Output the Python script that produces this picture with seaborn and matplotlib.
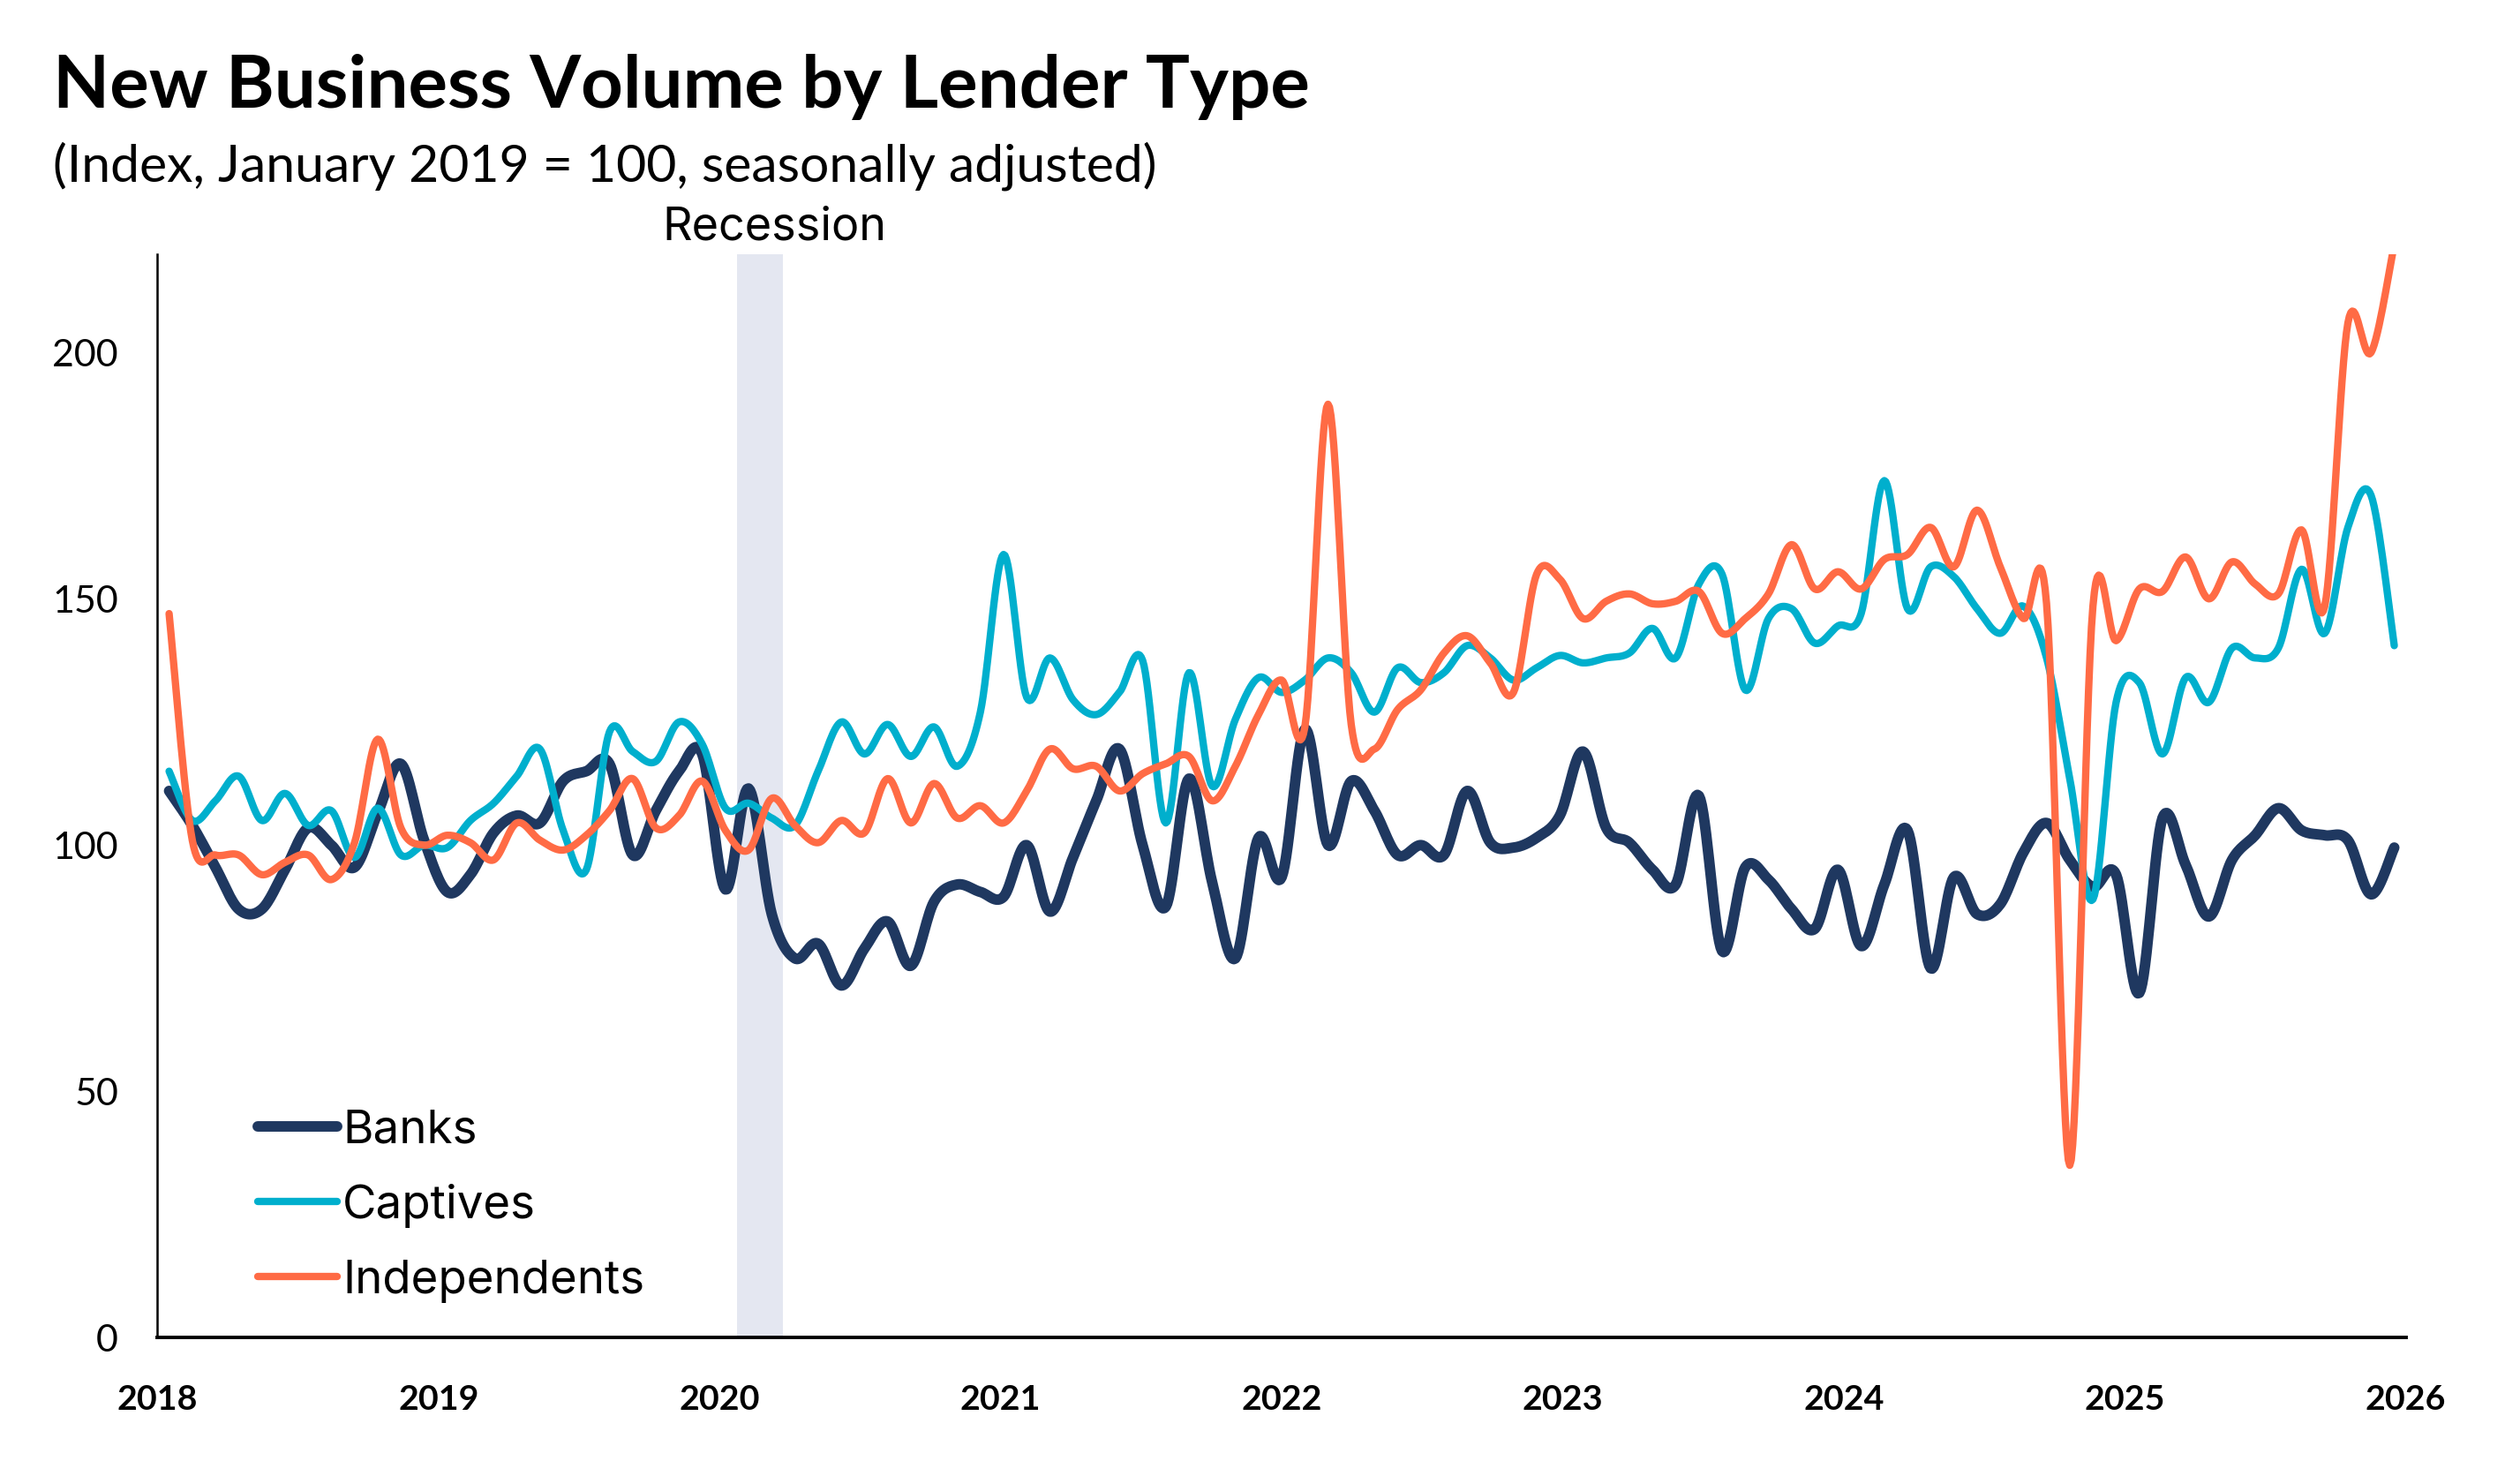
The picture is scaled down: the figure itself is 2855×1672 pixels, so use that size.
import numpy as np
import pandas as pd
import matplotlib
matplotlib.use("Agg")
import matplotlib.pyplot as plt
import matplotlib.transforms as mtransforms
import seaborn as sns

# monthly points, Jan 2018 .. Jan 2026
months = pd.date_range("2018-01-01", "2026-01-01", freq="MS")

banks = [111, 104, 95.5, 87, 87, 95, 103.5, 100, 95.5, 106.5, 116.5, 101,
         90.5, 94, 102.5, 106, 104.5, 113, 115, 116.5, 98, 107, 115, 118.5,
         91, 111.5, 86, 77, 80, 71.5, 79, 84.5, 75.5, 88.5, 92, 90.5,
         89.5, 100, 86.5, 97.5, 109, 119.5, 100, 87.5, 113.5, 92.5, 77, 101.5,
         93.5, 123.5, 100, 113, 107, 98, 100, 98, 111, 100.5, 99.5, 101.5,
         106, 119, 103.5, 100.5, 95, 92, 110, 78.5, 95.5, 93, 87, 83,
         95, 79.5, 92, 103, 75, 93.5, 86, 88, 98.5, 104.5, 97, 91.5,
         94, 70, 105.5, 96, 85.5, 97, 102, 107.5, 103, 102, 101, 90,
         99.5]

captives = [115, 105, 109, 114, 105, 110.5, 104, 107, 97.5, 107.5, 98, 100,
            99.5, 105, 108.5, 114, 119.5, 103, 95, 123, 119, 117, 125, 120.5,
            107.5, 108.5, 105.5, 104, 115, 125, 118.5, 124.5, 118, 124, 116, 127,
            159, 130, 138, 129.5, 126.5, 131, 137.5, 104.5, 135, 112, 125.5, 134,
            131, 133.5, 138, 135, 127, 136, 133, 135, 140.5, 138, 133.5, 136,
            138.5, 137, 138, 139, 144, 138, 153, 155, 131.5, 146, 148, 141,
            144.5, 147, 174, 148, 156.5, 154.5, 148, 143, 148.5, 138, 113.5, 89,
            129, 133, 118.5, 134, 129, 140, 138, 140, 156, 143, 164.5, 171,
            140.5]

independents = [147, 101, 98, 98, 94, 96.5, 98, 93, 100.5, 121.5, 103.5, 100,
                102, 100.5, 97, 104.5, 101, 99, 102, 107, 113.5, 103.5, 106, 113,
                103, 99, 109.5, 104, 100.5, 105, 102.5, 113.5, 104.5, 112.5, 105.5, 108,
                104.5, 111, 119.5, 115.5, 116, 111, 114.5, 116.5, 118, 109, 116, 126.5,
                133.5, 124, 189.5, 124.5, 119.5, 127.5, 131.5, 139, 142.5, 137, 131, 155,
                154, 146, 149.5, 151, 149, 149.5, 151.5, 143, 146, 151, 161, 152,
                155.5, 152, 158, 159, 164.5, 156.5, 168, 156.5, 146, 149, 35, 148.5,
                141.5, 152, 151.5, 158.5, 150, 157.5, 153, 151, 164, 148.5, 206, 200,
                222]

year_labels = [str(y) for y in range(2018, 2027)]
recession_months = ["2020-02", "2020-03"]

series = {"Banks": banks, "Captives": captives, "Independents": independents}
colors = {"Banks": "#1F3860", "Captives": "#00AFCD", "Independents": "#FF6B45"}
widths = {"Banks": 4.3, "Captives": 3.0, "Independents": 3.0}


def smooth(vals, n=16):
    # smoothed line like the spreadsheet chart (Bezier through every point)
    y = np.asarray(vals, float)
    x = np.arange(len(y), dtype=float)
    xp = np.r_[x[0], x, x[-1]]
    yp = np.r_[y[0], y, y[-1]]
    t = np.linspace(0, 1, n, endpoint=False)[:, None]
    xs, ys = [], []
    for i in range(len(y) - 1):
        p0, p1, p2, p3 = (np.array([xp[j], yp[j]]) for j in range(i, i + 4))
        c1 = p1 + (p2 - p0) / 6
        c2 = p2 - (p3 - p1) / 6
        b = (1 - t) ** 3 * p1 + 3 * (1 - t) ** 2 * t * c1 + 3 * (1 - t) * t ** 2 * c2 + t ** 3 * p2
        xs.append(b[:, 0])
        ys.append(b[:, 1])
    xs.append([x[-1]])
    ys.append([y[-1]])
    return np.concatenate(xs), np.concatenate(ys)


frames = []
for name, vals in series.items():
    xs, ys = smooth(vals)
    frames.append(pd.DataFrame({"x": xs, "value": ys, "lender": name}))
df = pd.concat(frames, ignore_index=True)

sns.set_theme(style="white")
plt.rcParams["font.family"] = ["Lato", "DejaVu Sans"]
plt.rcParams["text.color"] = "black"
plt.rcParams["xtick.color"] = "black"
plt.rcParams["ytick.color"] = "black"
label_font = ["Inter", "DejaVu Sans"]

fig = plt.figure(figsize=(14.275, 8.36), dpi=200)
ax = fig.add_axes([0.0625, 0.0937, 0.8922, 0.7342])

# recession band
rec_idx = [months.get_loc(pd.Timestamp(m + "-01")) for m in recession_months]
ax.axvspan(min(rec_idx) - 0.5, max(rec_idx) + 0.5, color="#E4E7F1", lw=0, zorder=0)
trans = mtransforms.blended_transform_factory(ax.transData, ax.transAxes)
ax.text(np.mean(rec_idx) + 0.6, 1.013, "Recession", transform=trans, ha="center",
        va="baseline", fontsize=18.8, family=label_font)

for name in series:
    sns.lineplot(data=df[df["lender"] == name], x="x", y="value", ax=ax,
                 color=colors[name], linewidth=widths[name], label=name,
                 sort=False, estimator=None, solid_capstyle="round", zorder=3)

ax.set_xlim(-0.5, len(months) - 0.5)
ax.set_ylim(0, 220)
ax.set_yticks([0, 50, 100, 150, 200])
ax.set_xticks(np.linspace(-0.5, len(months) - 0.5, len(year_labels)))
ax.set_xticklabels(year_labels, fontweight="bold")
ax.set_xlabel("")
ax.set_ylabel("")
ax.tick_params(axis="x", length=0, labelsize=14.2, pad=19)
ax.tick_params(axis="y", length=0, labelsize=15.5, pad=16)

for s in ["top", "right"]:
    ax.spines[s].set_visible(False)
ax.spines["left"].set_color("black")
ax.spines["left"].set_linewidth(0.9)
ax.spines["bottom"].set_color("black")
ax.spines["bottom"].set_linewidth(1.4)

ax.legend(loc="center left", bbox_to_anchor=(0.0343, 0.1217), frameon=False,
          borderpad=0, handlelength=1.7, handletextpad=0.12, labelspacing=0.68,
          prop={"family": label_font, "size": 19})

fig.text(0.021, 0.927, "New Business Volume by Lender Type", fontsize=30,
         fontweight="bold", va="baseline")
fig.text(0.021, 0.877, "(Index, January 2019 = 100, seasonally adjusted)",
         fontsize=21.2, va="baseline")

fig.savefig("out.png", dpi=200)
